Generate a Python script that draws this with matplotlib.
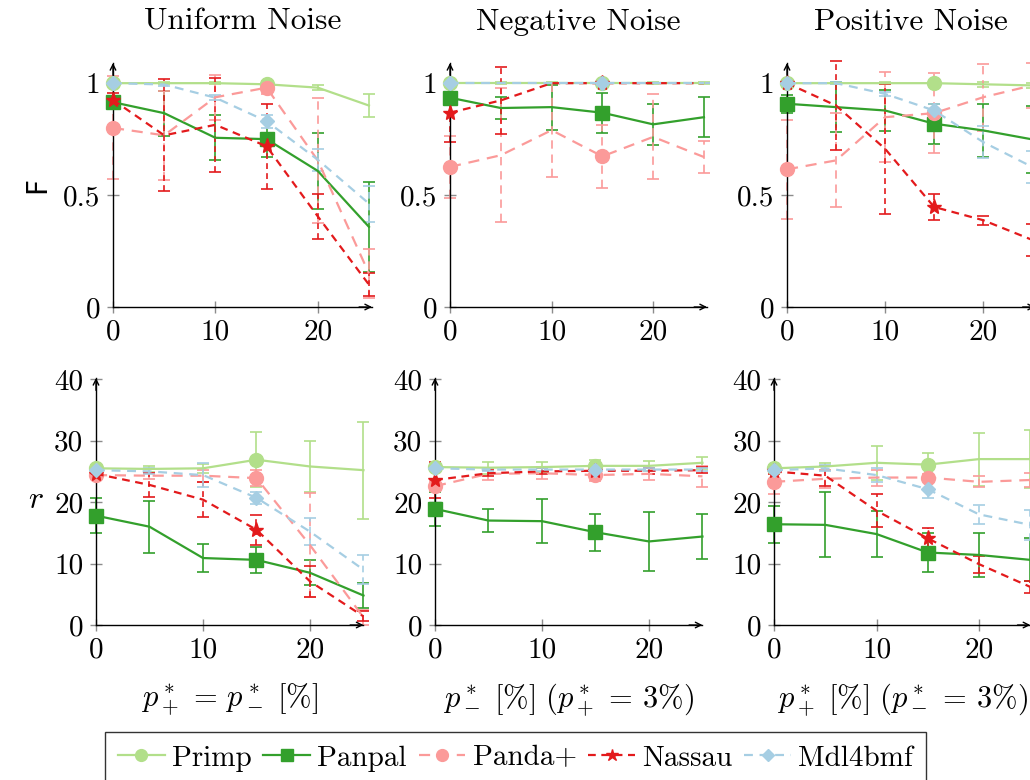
import matplotlib
matplotlib.use("Agg")
import matplotlib.pyplot as plt
from matplotlib.lines import Line2D

plt.rcParams['font.family'] = ['cmr10', 'DejaVu Serif']
plt.rcParams['mathtext.fontset'] = 'cm'
plt.rcParams['axes.formatter.use_mathtext'] = True
plt.rcParams['axes.unicode_minus'] = False

# noise levels (%)
x = [0, 5, 10, 15, 20, 25]

methods = ["Primp", "Panpal", "Panda+", "Nassau", "Mdl4bmf"]
titles = ["Uniform Noise", "Negative Noise", "Positive Noise"]
xlabels = [r"$p^*_+\, =\, p^*_-\ [\%]$",
           r"$p^*_-\ [\%]\ (p^*_+\, =\, 3\%)$",
           r"$p^*_+\ [\%]\ (p^*_-\, =\, 3\%)$"]

# --- F, top row ---
f_uniform = {
    "Primp":   [1.0, 1.0, 1.0, 0.995, 0.98, 0.90],
    "Panpal":  [0.915, 0.866, 0.756, 0.75, 0.608, 0.358],
    "Panda+":  [0.80, 0.767, 0.937, 0.98, 0.655, 0.15],
    "Nassau":  [0.925, 0.767, 0.814, 0.718, 0.405, 0.10],
    "Mdl4bmf": [1.0, 0.994, 0.935, 0.83, 0.658, 0.462],
}
f_uniform_err = {
    "Primp":   [0.005, 0.005, 0.005, 0.005, 0.01, 0.05],
    "Panpal":  [0.02, 0.10, 0.10, 0.08, 0.17, 0.20],
    "Panda+":  [0.23, 0.20, 0.10, 0.03, 0.28, 0.11],
    "Nassau":  [0.03, 0.25, 0.21, 0.19, 0.10, 0.05],
    "Mdl4bmf": [0.005, 0.005, 0.01, 0.03, 0.05, 0.08],
}
f_negative = {
    "Primp":   [1.0, 1.0, 1.0, 1.0, 1.0, 1.0],
    "Panpal":  [0.935, 0.889, 0.893, 0.868, 0.816, 0.848],
    "Panda+":  [0.626, 0.678, 0.79, 0.673, 0.76, 0.67],
    "Nassau":  [0.868, 0.923, 1.0, 1.0, 1.0, 1.0],
    "Mdl4bmf": [1.0, 1.0, 1.0, 1.0, 1.0, 1.0],
}
f_negative_err = {
    "Primp":   [0.005, 0.005, 0.005, 0.005, 0.005, 0.005],
    "Panpal":  [0.02, 0.05, 0.10, 0.09, 0.09, 0.09],
    "Panda+":  [0.14, 0.30, 0.21, 0.14, 0.19, 0.07],
    "Nassau":  [0.13, 0.15, 0.0, 0.0, 0.0, 0.0],
    "Mdl4bmf": [0.0, 0.0, 0.0, 0.0, 0.0, 0.0],
}
f_positive = {
    "Primp":   [1.0, 1.0, 1.0, 1.0, 0.995, 0.99],
    "Panpal":  [0.908, 0.893, 0.878, 0.819, 0.789, 0.749],
    "Panda+":  [0.615, 0.655, 0.848, 0.866, 0.937, 0.99],
    "Nassau":  [1.0, 0.90, 0.707, 0.447, 0.388, 0.30],
    "Mdl4bmf": [1.0, 1.0, 0.952, 0.878, 0.737, 0.626],
}
f_positive_err = {
    "Primp":   [0.005, 0.005, 0.005, 0.01, 0.01, 0.01],
    "Panpal":  [0.04, 0.11, 0.09, 0.09, 0.12, 0.15],
    "Panda+":  [0.22, 0.21, 0.20, 0.18, 0.15, 0.10],
    "Nassau":  [0.005, 0.20, 0.29, 0.06, 0.02, 0.07],
    "Mdl4bmf": [0.005, 0.005, 0.01, 0.03, 0.07, 0.07],
}

# --- r, bottom row ---
r_uniform = {
    "Primp":   [25.5, 25.4, 25.5, 26.9, 25.8, 25.2],
    "Panpal":  [17.8, 16.0, 10.9, 10.6, 8.5, 4.8],
    "Panda+":  [24.4, 24.3, 24.3, 23.9, 13.0, 1.25],
    "Nassau":  [24.6, 22.8, 20.4, 15.5, 7.1, 1.4],
    "Mdl4bmf": [25.2, 25.0, 24.4, 20.7, 15.2, 9.0],
}
r_uniform_err = {
    "Primp":   [0.5, 0.5, 0.7, 4.5, 4.1, 7.9],
    "Panpal":  [2.8, 4.2, 2.3, 2.1, 2.0, 2.0],
    "Panda+":  [0.5, 0.5, 1.0, 1.3, 8.5, 1.2],
    "Nassau":  [0.5, 2.0, 2.8, 2.4, 2.5, 0.8],
    "Mdl4bmf": [0.3, 0.5, 2.0, 1.0, 2.2, 2.4],
}
r_negative = {
    "Primp":   [25.7, 25.6, 25.7, 25.9, 25.9, 26.4],
    "Panpal":  [18.9, 17.0, 16.9, 15.1, 13.6, 14.4],
    "Panda+":  [22.6, 24.6, 24.7, 24.4, 24.6, 24.2],
    "Nassau":  [23.6, 24.7, 25.0, 25.1, 25.1, 25.2],
    "Mdl4bmf": [25.5, 25.3, 25.3, 25.3, 25.3, 25.3],
}
r_negative_err = {
    "Primp":   [0.5, 1.0, 0.8, 1.0, 0.8, 1.0],
    "Panpal":  [2.8, 1.8, 3.6, 3.0, 4.8, 3.6],
    "Panda+":  [0.8, 1.0, 1.0, 1.0, 1.0, 1.7],
    "Nassau":  [3.0, 0.5, 0.5, 0.5, 0.5, 0.5],
    "Mdl4bmf": [0.3, 0.3, 0.3, 0.3, 0.3, 0.3],
}
r_positive = {
    "Primp":   [25.5, 25.8, 26.4, 26.1, 27.0, 27.0],
    "Panpal":  [16.4, 16.3, 14.8, 11.8, 11.4, 10.6],
    "Panda+":  [23.3, 23.8, 24.0, 24.0, 23.3, 23.6],
    "Nassau":  [25.0, 24.3, 18.6, 14.1, 9.9, 6.2],
    "Mdl4bmf": [25.2, 25.5, 24.4, 22.1, 18.0, 16.3],
}
r_positive_err = {
    "Primp":   [0.5, 0.5, 2.8, 1.9, 4.3, 4.7],
    "Panpal":  [3.0, 5.3, 3.8, 3.2, 3.6, 3.5],
    "Panda+":  [1.9, 1.5, 1.3, 0.5, 0.9, 1.1],
    "Nassau":  [0.5, 1.6, 2.7, 1.7, 1.4, 1.0],
    "Mdl4bmf": [0.3, 0.5, 1.2, 1.4, 1.6, 2.4],
}

# styles (ColorBrewer Paired)
STYLE = {
    "Primp":   dict(color="#b2df8a", ls="-",  marker="o", ms=10),
    "Panpal":  dict(color="#33a02c", ls="-",  marker="s", ms=10),
    "Panda+":  dict(color="#fb9a99", ls=(0, (5, 3.5)), marker="o", ms=10),
    "Nassau":  dict(color="#e31a1c", ls=(0, (3.5, 2.5)), marker="*", ms=11),
    "Mdl4bmf": dict(color="#a6cee3", ls=(0, (4, 3)), marker="D", ms=7),
}

fig = plt.figure(figsize=(10.3, 7.8), dpi=100)

# axes boxes [left, bottom, width, height] in figure fraction
top_pos = [[0.1097, 0.6064, 0.2515, 0.3128],
           [0.4369, 0.6064, 0.2495, 0.3128],
           [0.7641, 0.6064, 0.2408, 0.3128]]
bot_pos = [[0.0932, 0.1987, 0.2597, 0.3167],
           [0.4223, 0.1987, 0.2597, 0.3167],
           [0.7515, 0.1987, 0.2488, 0.3167]]

top_data = [(f_uniform, f_uniform_err), (f_negative, f_negative_err), (f_positive, f_positive_err)]
bot_data = [(r_uniform, r_uniform_err), (r_negative, r_negative_err), (r_positive, r_positive_err)]


def draw_panel(ax, vals, errs, xmax, ymax, yticks, ylabels):
    for m in methods:
        st = STYLE[m]
        eb = ax.errorbar(x, vals[m], yerr=errs[m], fmt="none", ecolor=st["color"],
                         elinewidth=1.2, capsize=4, capthick=1.2, clip_on=False, zorder=2)
        for lc in eb[2]:
            lc.set_linestyle(st["ls"])
            lc.set_clip_on(False)
        for c in eb[1]:
            c.set_clip_on(False)
        ax.plot(x, vals[m], color=st["color"], ls=st["ls"], lw=1.6,
                marker=st["marker"], ms=st["ms"], markevery=[0, 3],
                mec=st["color"], mfc=st["color"], clip_on=False, zorder=3)
    ax.set_xlim(0, xmax)
    ax.set_ylim(0, ymax)
    ax.spines["top"].set_visible(False)
    ax.spines["right"].set_visible(False)
    ax.spines["left"].set_linewidth(1.0)
    ax.spines["bottom"].set_linewidth(1.0)
    ax.set_xticks([0, 10, 20])
    ax.set_xticklabels(["0", "10", "20"])
    ax.set_yticks(yticks)
    ax.set_yticklabels(ylabels)
    ax.tick_params(direction="inout", length=8, width=1, color="0.55",
                   labelsize=21, pad=5)
    ax.patch.set_visible(False)
    # axis arrows
    ax.annotate("", xy=(1.0, 0), xytext=(0.95, 0), xycoords="axes fraction",
                arrowprops=dict(arrowstyle="->", lw=1.0, color="black",
                                shrinkA=0, shrinkB=0))
    ax.annotate("", xy=(0, 1.0), xytext=(0, 0.95), xycoords="axes fraction",
                arrowprops=dict(arrowstyle="->", lw=1.0, color="black",
                                shrinkA=0, shrinkB=0))


for i in range(3):
    ax = fig.add_axes(top_pos[i])
    draw_panel(ax, top_data[i][0], top_data[i][1], 25.3, 1.09,
               [0, 0.5, 1], ["0", "0.5", "1"])
    ax.set_title(titles[i], fontsize=22.5, pad=24)

    ax2 = fig.add_axes(bot_pos[i])
    draw_panel(ax2, bot_data[i][0], bot_data[i][1], 25.0, 40.2,
               [0, 10, 20, 30, 40], ["0", "10", "20", "30", "40"])
    ax2.set_xlabel(xlabels[i], fontsize=22, labelpad=13)

fig.text(0.036, 0.763, "F", family="DejaVu Sans", fontsize=20, rotation=90,
         ha="center", va="center")
fig.text(0.035, 0.358, r"$r$", fontsize=23, ha="center", va="center")

handles = [Line2D([0], [0], color=STYLE[m]["color"], ls=STYLE[m]["ls"], lw=1.6,
                  marker=STYLE[m]["marker"], ms=STYLE[m]["ms"] * 0.85,
                  mec=STYLE[m]["color"], mfc=STYLE[m]["color"]) for m in methods]
leg = fig.legend(handles, methods, loc="upper center", bbox_to_anchor=(0.5005, 0.0615),
                 ncol=5, fontsize=21, frameon=True, fancybox=False, edgecolor="black",
                 handlelength=1.6, handletextpad=0.25, columnspacing=0.4,
                 borderpad=0.45, borderaxespad=0.0, numpoints=1)
leg.get_frame().set_linewidth(1.0)

fig.savefig("out.png", dpi=100)
